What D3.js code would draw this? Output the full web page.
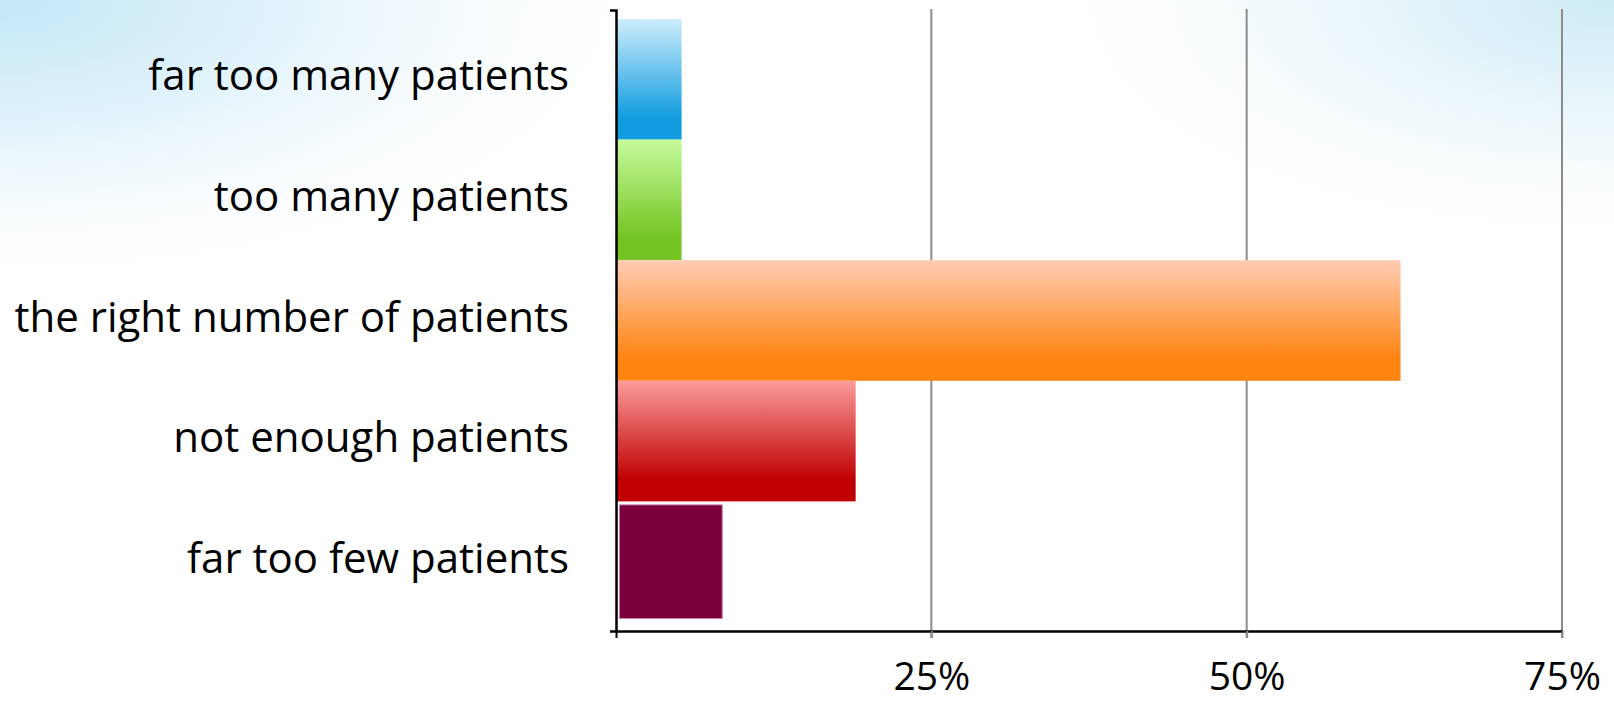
<!DOCTYPE html>
<html>
<head>
<meta charset="utf-8">
<script src="https://cdn.jsdelivr.net/npm/d3@7"></script>
<style>
  html, body { margin: 0; padding: 0; background: #ffffff; }
  svg { display: block; }
</style>
</head>
<body>
<svg id="chart" width="1614" height="701"></svg>
<script>
// ---- data ----
const categories = [
  "far too many patients",
  "too many patients",
  "the right number of patients",
  "not enough patients",
  "far too few patients"
];
const values = [5.2, 5.2, 62.2, 19.0, 8.7];
const tickValues = [25, 50, 75];
const tickLabels = ["25%", "50%", "75%"];
const barTopColors = ["#cdeefb", "#c6fb9c", "#ffccb4", "#fb9c9c", "#7d003e"];
const barBottomColors = ["#119ce0", "#74c322", "#ff8410", "#c00000", "#7d003e"];

const W = 1614, H = 701;
const svg = d3.select("#chart");
const defs = svg.append("defs");

// background
const bg1 = defs.append("radialGradient").attr("id", "bg1")
  .attr("gradientUnits", "userSpaceOnUse")
  .attr("cx", 0).attr("cy", 0).attr("r", 1)
  .attr("gradientTransform", "translate(0,0) scale(680,300)");
bg1.append("stop").attr("offset", 0).attr("stop-color", "#c2e7f6");
bg1.append("stop").attr("offset", 0.45).attr("stop-color", "#e4f4fb");
bg1.append("stop").attr("offset", 1).attr("stop-color", "#ffffff").attr("stop-opacity", 0);
const bg2 = defs.append("radialGradient").attr("id", "bg2")
  .attr("gradientUnits", "userSpaceOnUse")
  .attr("cx", 0).attr("cy", 0).attr("r", 1)
  .attr("gradientTransform", `translate(${W},0) scale(600,260)`);
bg2.append("stop").attr("offset", 0).attr("stop-color", "#cdebf6");
bg2.append("stop").attr("offset", 0.45).attr("stop-color", "#ebf7fb");
bg2.append("stop").attr("offset", 1).attr("stop-color", "#ffffff").attr("stop-opacity", 0);
svg.append("rect").attr("width", W).attr("height", H).attr("fill", "#ffffff");
svg.append("rect").attr("width", W).attr("height", H).attr("fill", "url(#bg1)");
svg.append("rect").attr("width", W).attr("height", H).attr("fill", "url(#bg2)");

// bar gradients
categories.forEach((c, i) => {
  const g = defs.append("linearGradient").attr("id", "bar" + i)
    .attr("x1", 0).attr("y1", 0).attr("x2", 0).attr("y2", 1);
  g.append("stop").attr("offset", 0).attr("stop-color", barTopColors[i]);
  g.append("stop").attr("offset", 0.82).attr("stop-color", barBottomColors[i]);
  g.append("stop").attr("offset", 1).attr("stop-color", barBottomColors[i]);
});

// scales
const x = d3.scaleLinear().domain([0, 75]).range([616, 1562]);
const y = d3.scaleBand().domain(categories).range([10, 631])
  .paddingInner(0).paddingOuter(0.075);

// gridlines
svg.append("g").selectAll("line").data(tickValues).join("line")
  .attr("x1", d => x(d)).attr("x2", d => x(d))
  .attr("y1", 9).attr("y2", 638)
  .attr("stroke", "#8c8c8c").attr("stroke-width", 2);

// bars
const data = categories.map((c, i) => ({ c, v: values[i], i }));
svg.append("g").selectAll("rect").data(data).join("rect")
  .attr("x", d => d.i === 4 ? x(0) + 3.5 : x(0))
  .attr("y", d => d.i === 4 ? y(d.c) + 3.5 : y(d.c))
  .attr("width", d => d.i === 4 ? x(d.v) - x(0) - 7 : x(d.v) - x(0))
  .attr("height", d => d.i === 4 ? y.bandwidth() - 7 : y.bandwidth())
  .attr("fill", d => `url(#bar${d.i})`)
  .attr("stroke", d => d.i === 4 ? "#c684a6" : "none")
  .attr("stroke-width", 1);

// x axis
const xAxis = svg.append("g").attr("transform", `translate(0,${y.range()[1]})`)
  .call(d3.axisBottom(x).tickValues([0].concat(tickValues)).tickSize(7).tickSizeOuter(0)
    .tickFormat(d => { const k = tickValues.indexOf(d); return k >= 0 ? tickLabels[k] : ""; }));
xAxis.select(".domain").attr("stroke", "#000").attr("stroke-width", 2.5);
xAxis.selectAll(".tick line").attr("stroke", d => d === 0 ? "#000" : "#8c8c8c").attr("stroke-width", 2);
xAxis.selectAll(".tick text")
  .attr("y", 59).attr("dy", 0)
  .attr("fill", "#000")
  .style("font-family", "'Open Sans', Lato, sans-serif")
  .style("font-size", "39px");

// y axis
const yAxis = svg.append("g").attr("transform", `translate(${x(0)},0)`)
  .call(d3.axisLeft(y).tickValues([]).tickSizeOuter(6));
yAxis.select(".domain").attr("stroke", "#000").attr("stroke-width", 2.5).attr("fill", "none");

// category labels
svg.append("g").selectAll("text").data(categories).join("text")
  .attr("x", 569)
  .attr("y", d => y(d) + y.bandwidth() / 2 + 11)
  .attr("text-anchor", "end")
  .attr("fill", "#000")
  .style("font-family", "'Open Sans', Lato, sans-serif")
  .style("font-size", "42px")
  .text(d => d);
</script>
</body>
</html>
